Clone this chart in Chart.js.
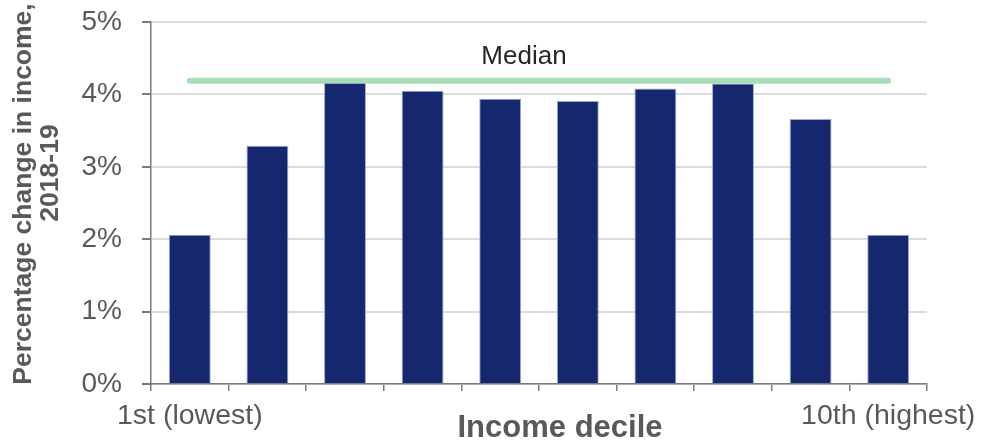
<!DOCTYPE html>
<html>
<head>
<meta charset="utf-8">
<title>Income change by decile</title>
<script src="https://cdn.jsdelivr.net/npm/chart.js@4/dist/chart.umd.min.js"></script>
<style>
  html, body { margin: 0; padding: 0; background: #fff; }
  #wrap { width: 984px; height: 443px; position: relative; }
</style>
</head>
<body>
<div id="wrap"><canvas id="chart"></canvas></div>
<script>
// Percentage change in income, 2018-19, by income decile
const deciles = ['1st (lowest)', '2nd', '3rd', '4th', '5th', '6th', '7th', '8th', '9th', '10th (highest)'];
const incomeChange = [2.06, 3.29, 4.22, 4.05, 3.94, 3.91, 4.08, 4.15, 3.66, 2.06];
const medianChange = 4.19;
const medianLine = deciles.map(() => medianChange);
const shownTicks = ['1st (lowest)', '10th (highest)'];
const yTicks = [0, 1, 2, 3, 4, 5];

const FONT = '"Liberation Sans", Arial, sans-serif';
const GREY = '#595959';

// axis titles and the median caption are drawn by hand
const annotate = {
  id: 'annotate',
  afterDraw(chart) {
    const { ctx, chartArea, scales } = chart;
    ctx.save();
    ctx.fillStyle = GREY;
    ctx.textAlign = 'center';
    ctx.textBaseline = 'alphabetic';

    ctx.font = 'bold 31px ' + FONT;
    ctx.fillText('Income decile', (chartArea.left + chartArea.right) / 2 + 21, 437);

    ctx.font = 'bold 26.5px ' + FONT;
    ctx.save();
    ctx.translate(31, 194);
    ctx.rotate(-Math.PI / 2);
    ctx.fillText('Percentage change in income,', 0, 0);
    ctx.restore();
    ctx.save();
    ctx.translate(58, 173);
    ctx.rotate(-Math.PI / 2);
    ctx.fillText('2018-19', 0, 0);
    ctx.restore();

    ctx.fillStyle = '#262626';
    ctx.font = '26px ' + FONT;
    ctx.fillText('Median', chartArea.left + 373, scales.y.getPixelForValue(medianChange) - 17);
    ctx.restore();
  }
};

new Chart(document.getElementById('chart'), {
  type: 'bar',
  data: {
    labels: deciles,
    datasets: [
      {
        type: 'line',
        label: 'Median',
        data: medianLine,
        borderColor: '#a9dcb9',
        borderWidth: 6,
        borderCapStyle: 'round',
        pointRadius: 0,
        fill: false
      },
      {
        label: 'Percentage change',
        data: incomeChange,
        backgroundColor: '#15286f',
        borderColor: '#9aa6d0',
        borderWidth: 1,
        categoryPercentage: 1,
        barPercentage: 0.54
      }
    ]
  },
  options: {
    responsive: true,
    maintainAspectRatio: false,
    animation: false,
    layout: { padding: { top: 22, right: 57, left: 0, bottom: 0 } },
    plugins: {
      legend: { display: false },
      tooltip: { enabled: false }
    },
    scales: {
      x: {
        afterFit: (s) => {
          s.height = 59;
          s.paddingLeft = 0;
          s.paddingRight = 0;
        },
        grid: {
          offset: true,
          drawOnChartArea: false,
          tickLength: 7,
          tickColor: '#7a7a7a',
          lineWidth: 1.5
        },
        border: { color: '#7a7a7a', width: 1.5 },
        ticks: {
          autoSkip: false,
          maxRotation: 0,
          padding: 8,
          color: GREY,
          font: { family: FONT, size: 28.5 },
          callback: function (v, i) {
            const name = this.getLabelForValue(v);
            return shownTicks.includes(name) ? name : '';
          }
        }
      },
      y: {
        min: 0,
        max: 5,
        afterFit: (s) => {
          s.width = 151;
          s.paddingTop = 0;
          s.paddingBottom = 0;
        },
        afterBuildTicks: (s) => { s.ticks = yTicks.map(v => ({ value: v })); },
        grid: {
          color: '#dcdcdc',
          lineWidth: 2,
          tickLength: 9,
          tickColor: '#7a7a7a'
        },
        border: { color: '#7a7a7a', width: 1.5 },
        ticks: {
          padding: 20,
          color: GREY,
          font: { family: FONT, size: 28 },
          callback: (v) => v + '%'
        }
      }
    }
  },
  plugins: [annotate]
});
</script>
</body>
</html>
